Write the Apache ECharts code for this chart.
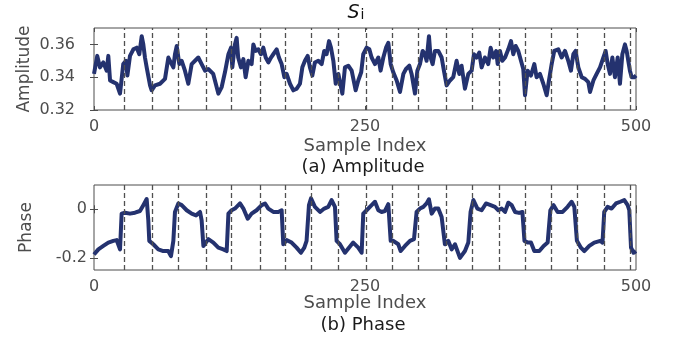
<!DOCTYPE html>
<html>
<head>
<meta charset="utf-8">
<script src="https://cdn.jsdelivr.net/npm/echarts@6/dist/echarts.min.js"></script>
<style>
html, body { margin: 0; padding: 0; background: #fff; }
#container { width: 678px; height: 345px; }
</style>
</head>
<body>
<div id="container"></div>
<script>
// tick values
const xTicks = [0, 250, 500]
const ampTicks = [0.32, 0.34, 0.36]
const phaseTicks = [-0.2, 0]

// dashed segment boundaries (sample index)
const boundaries = [28, 54, 78, 104, 127, 153, 176, 200, 225, 251, 275, 299, 325, 349, 374, 398, 422, 446, 471, 495]

// [sample index, amplitude]
const amplitude = [
    [0, 0.342], [3, 0.353], [5.5, 0.346], [8.6, 0.349], [11.7, 0.344], [13.2, 0.353], [14.8, 0.338],
    [17.8, 0.337], [20.9, 0.336], [24, 0.330], [27, 0.348], [29.5, 0.350], [30.8, 0.341], [33.2, 0.353],
    [36.3, 0.357], [39.4, 0.358], [41.8, 0.354], [44, 0.365], [45.5, 0.360], [47, 0.352], [48.6, 0.346],
    [51.7, 0.335], [53.2, 0.332], [56.3, 0.335], [60.9, 0.336], [65.5, 0.339], [68.6, 0.352], [70.1, 0.350],
    [73.2, 0.346], [74.7, 0.354], [76.3, 0.359], [78.7, 0.348], [80.9, 0.350], [83.9, 0.344], [87, 0.336],
    [90.1, 0.348], [93.2, 0.350], [96.2, 0.352], [99.3, 0.348], [102.4, 0.344], [105.4, 0.345], [110, 0.342],
    [114.7, 0.330], [117.8, 0.334], [120.8, 0.343], [124, 0.354], [126.4, 0.358], [127.6, 0.346], [130, 0.360],
    [131.6, 0.364], [133, 0.352], [135.6, 0.346], [137.8, 0.351], [139.9, 0.340], [142.4, 0.350], [145.4, 0.348],
    [147, 0.360], [149, 0.356], [151.6, 0.357], [154, 0.354], [156.2, 0.358], [158.4, 0.352], [160.8, 0.349],
    [163.3, 0.352], [165.4, 0.354], [168.5, 0.357], [170.6, 0.352], [173.1, 0.348], [175.6, 0.340], [177.7, 0.342],
    [180.8, 0.336], [183.9, 0.332], [187, 0.333], [190, 0.336], [192.2, 0.346], [194.6, 0.350], [197.1, 0.353],
    [199.2, 0.346], [201.4, 0.341], [203.8, 0.349], [206.9, 0.350], [210, 0.348], [212.4, 0.356], [214.6, 0.354],
    [216.8, 0.362], [218.6, 0.358], [220.8, 0.350], [223, 0.336], [225.4, 0.342], [229.1, 0.330], [231.5, 0.346],
    [234.6, 0.347], [237.7, 0.344], [241.4, 0.332], [243.8, 0.338], [246.5, 0.343], [248.4, 0.354], [251.5, 0.358],
    [254, 0.357], [256.1, 0.352], [259.2, 0.348], [262.3, 0.352], [264.4, 0.344], [266.9, 0.352], [269.4, 0.358],
    [271.5, 0.361], [273.7, 0.348], [276.1, 0.343], [279.2, 0.338], [282.3, 0.331], [285.4, 0.342], [287.8, 0.345],
    [290.9, 0.347], [293, 0.342], [296.1, 0.330], [298.3, 0.344], [300.7, 0.348], [303.2, 0.356], [305.3, 0.354],
    [306.8, 0.350], [309, 0.365], [310.5, 0.352], [312.4, 0.348], [314.5, 0.356], [317.6, 0.356], [320.7, 0.352],
    [322.8, 0.344], [325.3, 0.335], [328.4, 0.338], [331.4, 0.340], [334.5, 0.350], [337, 0.342], [339.1, 0.347],
    [342.2, 0.333], [345.3, 0.342], [348.4, 0.344], [350.5, 0.354], [353, 0.352], [355.4, 0.355], [357.6, 0.346],
    [360.6, 0.352], [363.7, 0.348], [365.9, 0.358], [368.3, 0.352], [371, 0.356], [372.4, 0.348], [374.5, 0.356],
    [376.7, 0.350], [379.2, 0.352], [382.2, 0.357], [384.7, 0.362], [386.8, 0.354], [389, 0.359], [391.4, 0.356],
    [393.9, 0.350], [396, 0.345], [397.6, 0.329], [400, 0.344], [403.1, 0.341], [406.2, 0.348], [408.3, 0.340],
    [411.4, 0.342], [414.5, 0.336], [417.6, 0.329], [419.7, 0.338], [422.2, 0.348], [424.6, 0.356], [428.3, 0.357],
    [431.4, 0.352], [434.5, 0.356], [437.5, 0.350], [440, 0.344], [442.2, 0.354], [444.3, 0.356], [446.8, 0.346],
    [449.9, 0.340], [453, 0.339], [456, 0.337], [457.6, 0.331], [460.7, 0.338], [463.7, 0.342], [466.8, 0.346],
    [469.9, 0.352], [472, 0.356], [473.9, 0.348], [476, 0.342], [478.2, 0.352], [480.6, 0.340], [483.1, 0.352],
    [485.2, 0.336], [487.4, 0.354], [489.8, 0.360], [491.4, 0.356], [492.9, 0.350], [494.4, 0.344], [496, 0.340],
    [498.4, 0.340], [500, 0.341]
]

// [sample index, phase]
const phase = [
    [0, -0.186], [4, -0.165], [8.6, -0.151], [13.2, -0.137], [17.8, -0.130], [20.9, -0.127], [24, -0.165],
    [25.5, -0.018], [28.6, -0.014], [33.2, -0.018], [37.8, -0.014], [42.4, -0.007], [45.5, 0.017], [48.6, 0.042],
    [50.1, -0.046], [51, -0.130], [54.7, -0.144], [59.3, -0.165], [63.9, -0.172], [68.5, -0.172], [71, -0.193],
    [73.2, -0.130], [74.7, -0.011], [77.8, 0.024], [80.9, 0.017], [85.5, -0.004], [90.1, -0.018], [94.1, -0.025],
    [97.8, -0.011], [99.3, -0.046], [100.9, -0.151], [105.5, -0.123], [110.1, -0.137], [114.7, -0.158],
    [119.3, -0.165], [122.4, -0.172], [124, -0.018], [127, -0.004], [130, 0.003], [134.7, 0.024], [137.8, 0.003],
    [141.8, -0.039], [145.4, -0.018], [150, -0.004], [154.7, 0.017], [157.8, 0.024], [160.8, 0.003],
    [165.4, -0.011], [170, -0.011], [173.1, -0.004], [174.6, -0.144], [177.7, -0.127], [182.3, -0.137],
    [186.9, -0.158], [190.9, -0.179], [194, -0.158], [196.1, -0.130], [198.3, 0.017], [200.2, 0.045],
    [203.8, 0.010], [208.5, -0.011], [212.4, 0.003], [216.1, 0.010], [219.2, 0.038], [222.3, 0.010],
    [223.8, -0.130], [226.9, -0.144], [231.5, -0.179], [235.2, -0.158], [239.1, -0.137], [243.8, -0.158],
    [246.9, -0.179], [248.4, -0.018], [251.5, -0.004], [256.1, 0.017], [259.2, 0.031], [262.3, -0.004],
    [265.3, -0.011], [268.4, -0.007], [271.5, 0.021], [273.7, -0.130], [276.1, -0.130], [280.7, -0.144],
    [282.9, -0.172], [286.9, -0.151], [291.5, -0.130], [295.2, -0.123], [297.6, -0.011], [300.7, 0.003],
    [303.8, 0.010], [306.8, 0.024], [309, 0.041], [311.5, -0.018], [314.5, 0.003], [317.6, 0.003],
    [320.7, -0.032], [323.7, -0.144], [326.8, -0.130], [329.9, -0.165], [333, -0.144], [337.6, -0.200],
    [342.2, -0.172], [345.3, -0.137], [347.4, -0.011], [350, 0.038], [353.7, 0.003], [357.6, -0.004],
    [361.6, 0.024], [365.9, 0.017], [369.9, 0.010], [373, -0.004], [376.1, 0.003], [379.2, -0.011],
    [382.2, 0.027], [385.3, 0.017], [388.4, -0.011], [392.1, -0.015], [395.2, -0.011], [397.1, -0.130],
    [400.1, -0.137], [403.1, -0.137], [406.2, -0.172], [410.8, -0.172], [414.8, -0.151], [418.5, -0.137],
    [421, -0.004], [424, 0.017], [427.7, -0.011], [432.3, -0.011], [436.9, 0.010], [440.6, 0.031],
    [443.1, 0.010], [445.5, -0.130], [449.2, -0.158], [452.3, -0.172], [456.9, -0.151], [461.5, -0.137],
    [467, -0.130], [469.1, -0.137], [470.7, -0.011], [473.8, 0.010], [477.5, 0.003], [481.5, 0.024],
    [485.5, 0.031], [489.2, 0.038], [492.3, 0.017], [493.8, -0.004], [495.4, -0.158], [497.8, -0.179],
    [500, -0.172]
]

const FONT = 'DejaVu Sans'
const LINE = '#24326f'
const GREY = '#4d4d4d'

const dom = document.getElementById('container')
const myChart = echarts.init(dom)

function xAxis(gridIndex, position, show, nameGap) {
    return {
        type: 'value',
        gridIndex: gridIndex,
        position: position,
        min: 0,
        max: 500,
        name: show ? 'Sample Index' : '',
        nameLocation: 'middle',
        nameGap: nameGap,
        nameMoveOverlap: false,
        nameTextStyle: { fontFamily: FONT, fontSize: 18, color: GREY },
        axisLine: { show: false },
        axisTick: { show: true, inside: true, length: 4, customValues: xTicks, lineStyle: { color: GREY } },
        axisLabel: { show: show, customValues: xTicks, margin: 9, fontFamily: FONT, fontSize: 16, color: GREY },
        splitLine: { show: false }
    }
}

function yAxis(gridIndex, position, show, min, max, ticks, name, nameGap, margin) {
    return {
        type: 'value',
        gridIndex: gridIndex,
        position: position,
        min: min,
        max: max,
        name: show ? name : '',
        nameLocation: 'middle',
        nameGap: nameGap,
        nameMoveOverlap: false,
        nameTextStyle: { fontFamily: FONT, fontSize: 17, color: GREY },
        axisLine: { show: false },
        axisTick: { show: true, inside: true, length: 4, customValues: ticks, lineStyle: { color: GREY } },
        axisLabel: { show: show, customValues: ticks, margin: margin, fontFamily: FONT, fontSize: 16, color: GREY },
        splitLine: { show: false }
    }
}

const dashed = {
    silent: true,
    symbol: ['none', 'none'],
    label: { show: false },
    lineStyle: { type: [5, 3], color: '#505050', width: 1.3 },
    data: boundaries.map(function (v) { return { xAxis: v } })
}

const option = {
    backgroundColor: '#fff',
    animation: false,
    grid: [
        { left: 94, top: 28, width: 542, height: 82, show: true, borderColor: GREY, borderWidth: 1 },
        { left: 94, top: 185, width: 542, height: 85, show: true, borderColor: GREY, borderWidth: 1 }
    ],
    xAxis: [
        xAxis(0, 'bottom', true, 27),
        xAxis(0, 'top', false, 0),
        xAxis(1, 'bottom', true, 24),
        xAxis(1, 'top', false, 0)
    ],
    yAxis: [
        yAxis(0, 'left', true, 0.32, 0.37, ampTicks, 'Amplitude', 61, 19),
        yAxis(0, 'right', false, 0.32, 0.37, ampTicks, '', 0, 0),
        yAxis(1, 'left', true, -0.25, 0.1, phaseTicks, 'Phase', 59, 7),
        yAxis(1, 'right', false, -0.25, 0.1, phaseTicks, '', 0, 0)
    ],
    graphic: [
        {
            type: 'text', x: 356, y: 13, z: 10,
            style: {
                text: '{s|S}{i|i}',
                align: 'center', verticalAlign: 'middle',
                rich: {
                    s: { fontFamily: FONT, fontSize: 19, fontStyle: 'italic', fill: '#111' },
                    i: { fontFamily: FONT, fontSize: 14, fill: '#111', padding: [4, 0, 0, 1] }
                }
            }
        },
        {
            type: 'text', x: 363, y: 167, z: 10,
            style: { text: '(a) Amplitude', align: 'center', verticalAlign: 'middle', fontFamily: FONT, fontSize: 18, fill: '#1a1a1a' }
        },
        {
            type: 'text', x: 363, y: 325, z: 10,
            style: { text: '(b) Phase', align: 'center', verticalAlign: 'middle', fontFamily: FONT, fontSize: 18, fill: '#1a1a1a' }
        }
    ],
    series: [
        {
            name: 'amp-bounds', type: 'line', xAxisIndex: 0, yAxisIndex: 0, z: 1,
            data: [], markLine: dashed
        },
        {
            name: 'phase-bounds', type: 'line', xAxisIndex: 2, yAxisIndex: 2, z: 1,
            data: [], markLine: dashed
        },
        {
            name: 'Amplitude', type: 'line', xAxisIndex: 0, yAxisIndex: 0, z: 3,
            showSymbol: false, smooth: false,
            lineStyle: { width: 4, color: LINE, join: 'round' },
            data: amplitude
        },
        {
            name: 'Phase', type: 'line', xAxisIndex: 2, yAxisIndex: 2, z: 3,
            showSymbol: false, smooth: false,
            lineStyle: { width: 4, color: LINE, join: 'round' },
            data: phase
        }
    ]
}

myChart.setOption(option)
</script>
</body>
</html>
